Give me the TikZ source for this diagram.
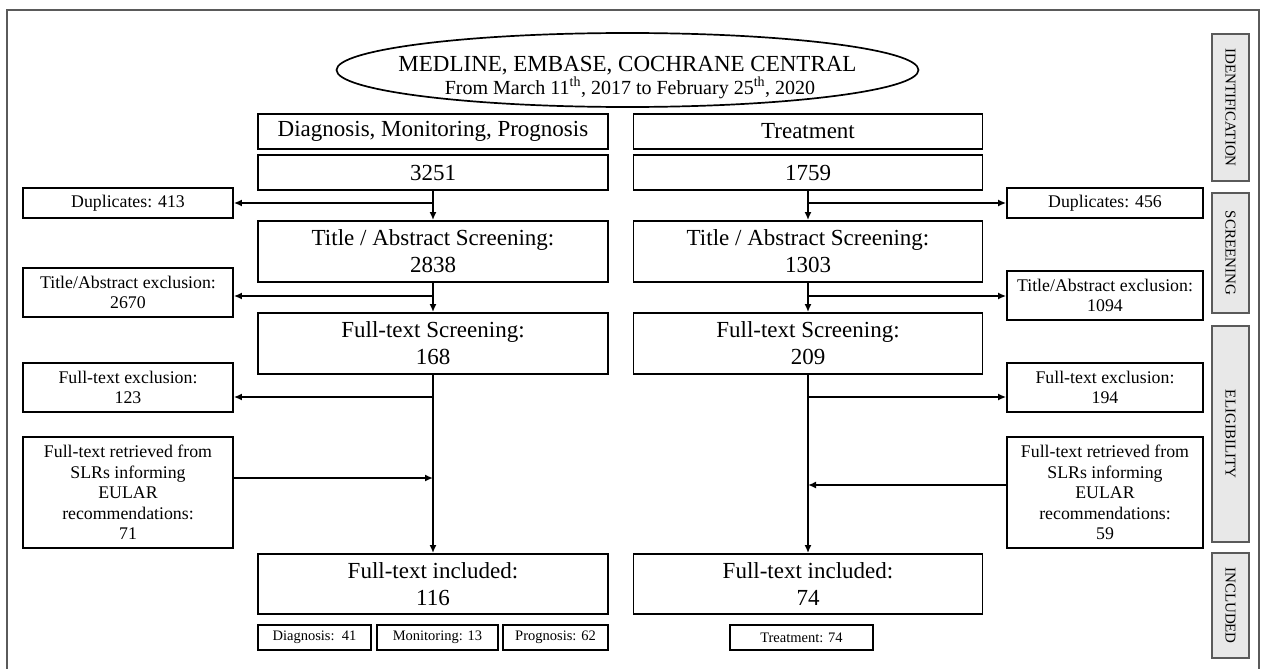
\documentclass[tikz,border=0pt]{standalone}
\usepackage{fontspec}
\setmainfont{Liberation Serif}
\usetikzlibrary{arrows.meta,shapes.geometric,calc}
\definecolor{framec}{RGB}{90,90,90}
\definecolor{phasefill}{RGB}{232,232,232}
\begin{document}
\begin{tikzpicture}[x=1pt,y=-1pt,
  bigbox/.style={draw, line width=1.9pt, minimum width=350pt, inner sep=0pt, align=center, font=\fontsize{23}{27}\selectfont},
  sidebox/.style={draw, line width=1.7pt, align=center, inner sep=0pt, font=\fontsize{17.8}{20.5}\selectfont},
  tinybox/.style={draw, line width=1.7pt, minimum height=25pt, inner sep=0pt, font=\fontsize{14.5}{17}\selectfont},
  phase/.style={draw=framec, fill=phasefill, line width=1.3pt, minimum height=37pt, inner sep=0pt, rotate=-90, font=\fontsize{15}{17}\selectfont},
  arr/.style={-{Latex[length=8pt,width=7pt]}, line width=1.6pt}]
\useasboundingbox (0,0) rectangle (1261,669);
% frame
\draw[framec, line width=1.2pt] (7,672) -- (7,10) -- (1259,10) -- (1259,672);
% source ellipse
\node[ellipse, draw, line width=1.7pt, minimum width=582pt, minimum height=74pt, inner sep=0pt] (db) at (627.5,70) {};
\node[inner sep=0pt, anchor=base, font=\fontsize{23}{26}\selectfont] (dbt1) at (627.5,72) {MEDLINE, EMBASE, COCHRANE CENTRAL};
\node[inner sep=0pt, anchor=base, font=\fontsize{20}{24}\selectfont] (dbt2) at (630,94) {From March 11\textsuperscript{th}, 2017 to February 25\textsuperscript{th}, 2020};
% left column
\node[bigbox, minimum height=35pt] (lh) at (433,131.5) {Diagnosis, Monitoring, Prognosis};
\node[bigbox, minimum height=35pt] (lc) at (433,172.5) {3251};
\node[bigbox, minimum height=61pt] (lta) at (433,251.5) {Title / Abstract Screening:\\2838};
\node[bigbox, minimum height=61pt] (lfs) at (433,343.5) {Full-text Screening:\\168};
\node[bigbox, minimum height=60pt] (lin) at (433,584) {Full-text included:\\116};
% right column
\node[bigbox, minimum width=349pt, minimum height=35pt] (rh) at (808,131.5) {Treatment};
\node[bigbox, minimum width=349pt, minimum height=35pt] (rc) at (808,172.5) {1759};
\node[bigbox, minimum width=349pt, minimum height=61pt] (rta) at (808,251.5) {Title / Abstract Screening:\\1303};
\node[bigbox, minimum width=349pt, minimum height=61pt] (rfs) at (808,343.5) {Full-text Screening:\\209};
\node[bigbox, minimum width=349pt, minimum height=60pt] (rin) at (808,584) {Full-text included:\\74};
% left side boxes
\node[sidebox, minimum width=210pt, minimum height=30pt] (ldup) at (128,203) {Duplicates: 413};
\node[sidebox, minimum width=210pt, minimum height=49pt] (ltax) at (128,292.5) {Title/Abstract exclusion:\\2670};
\node[sidebox, minimum width=210pt, minimum height=49pt] (lftx) at (128,387.5) {Full-text exclusion:\\123};
\node[sidebox, minimum width=210pt, minimum height=111pt] (lret) at (128,492.5) {Full-text retrieved from\\SLRs informing\\EULAR\\recommendations:\\71};
% right side boxes
\node[sidebox, minimum width=196pt, minimum height=30pt] (rdup) at (1105,203) {Duplicates: 456};
\node[sidebox, minimum width=196pt, minimum height=49pt] (rtax) at (1105,295.5) {Title/Abstract exclusion:\\1094};
\node[sidebox, minimum width=196pt, minimum height=49pt] (rftx) at (1105,387.5) {Full-text exclusion:\\194};
\node[sidebox, minimum width=196pt, minimum height=111pt] (rret) at (1105,492.5) {Full-text retrieved from\\SLRs informing\\EULAR\\recommendations:\\59};
% tiny boxes
\node[tinybox, minimum width=113pt] (tdiag) at (314.5,637.5) {Diagnosis:\ \ 41};
\node[tinybox, minimum width=121pt] (tmon) at (437.5,637.5) {Monitoring: 13};
\node[tinybox, minimum width=105pt] (tprog) at (555.5,637.5) {Prognosis: 62};
\node[tinybox, minimum width=143pt] (ttreat) at (801.5,637.5) {Treatment: 74};
% phase bars
\node[phase, minimum width=147pt] (pid) at (1230.5,107.5) {IDENTIFICATION};
\node[phase, minimum width=120pt] (psc) at (1230.5,253) {SCREENING};
\node[phase, minimum width=216pt] (pel) at (1230.5,434) {ELIGIBILITY};
\node[phase, minimum width=105pt] (pin) at (1230.5,605.5) {INCLUDED};
% left connectors
\draw[arr] (lc.south) -- (lta.north);
\coordinate (ld) at (433,203);
\draw[arr] (ld) -- (ldup.east |- ld);
\draw[arr] (lta.south) -- (lfs.north);
\coordinate (lt) at (433,296);
\draw[arr] (lt) -- (ltax.east |- lt);
\draw[arr] (lfs.south) -- (lin.north);
\coordinate (lf) at (433,397);
\draw[arr] (lf) -- (lftx.east |- lf);
\coordinate (lr) at (433,478);
\draw[arr] (lret.east |- lr) -- (lr);
% right connectors
\draw[arr] (rc.south) -- (rta.north);
\coordinate (rd) at (808,203);
\draw[arr] (rd) -- (rdup.west |- rd);
\draw[arr] (rta.south) -- (rfs.north);
\coordinate (rt) at (808,296);
\draw[arr] (rt) -- (rtax.west |- rt);
\draw[arr] (rfs.south) -- (rin.north);
\coordinate (rf) at (808,397);
\draw[arr] (rf) -- (rftx.west |- rf);
\coordinate (rr) at (808,485);
\draw[arr] (rret.west |- rr) -- (rr);
\end{tikzpicture}
\end{document}
